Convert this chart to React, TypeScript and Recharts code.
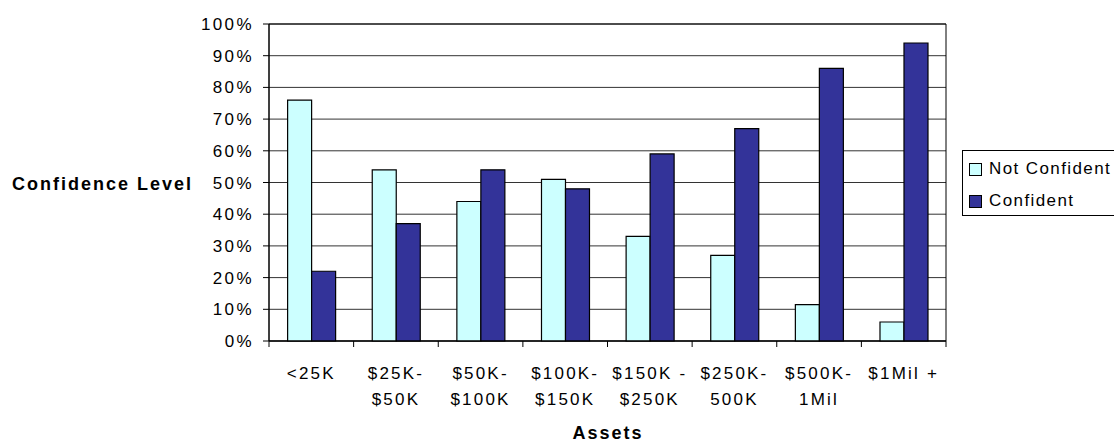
import React from "react";
import {
  Bar,
  BarChart,
  CartesianGrid,
  Legend,
  ReferenceArea,
  XAxis,
  YAxis,
} from "recharts";

const categories = [
  "<25K",
  "$25K-$50K",
  "$50K-$100K",
  "$100K-$150K",
  "$150K-$250K",
  "$250K-500K",
  "$500K-1Mil",
  "$1Mil +",
];
const tickLabelLines = [
  ["<25K"],
  ["$25K-", "$50K"],
  ["$50K-", "$100K"],
  ["$100K-", "$150K"],
  ["$150K -", "$250K"],
  ["$250K-", "500K"],
  ["$500K-", "1Mil"],
  ["$1Mil +"],
];
const seriesNames = ["Not Confident", "Confident"];
const notConfident = [76, 54, 44, 51, 33, 27, 11.5, 6];
const confident = [22, 37, 54, 48, 59, 67, 86, 94];
const yTicks = [0, 10, 20, 30, 40, 50, 60, 70, 80, 90, 100];

const data = categories.map((name, i) => ({
  name,
  notConfident: notConfident[i],
  confident: confident[i],
}));

const FONT = '"Liberation Sans", Arial, sans-serif';
const LIGHT = "#CCFFFF";
const DARK = "#333399";

const CHART_W = 1114;
const CHART_H = 443;
const MARGIN = { top: 24, right: 168, left: 209, bottom: 22 };
const Y_AXIS_W = 60;
const PLOT_W = CHART_W - MARGIN.left - MARGIN.right - Y_AXIS_W;

// category labels plus the boundary tick marks between categories
function CatTick(props: any) {
  const { x, y, payload, index } = props;
  const bw = (typeof props.width === "number" ? props.width : PLOT_W) / categories.length;
  const lines = tickLabelLines[categories.indexOf(payload.value)] ?? [payload.value];
  const last = index === categories.length - 1;
  return (
    <g>
      <line x1={x - bw / 2} x2={x - bw / 2} y1={y} y2={y + 6} stroke="#000" />
      {last && <line x1={x + bw / 2} x2={x + bw / 2} y1={y} y2={y + 6} stroke="#000" />}
      <text
        x={x}
        y={y}
        textAnchor="middle"
        fill="#000"
        style={{ fontFamily: FONT, fontSize: 17, letterSpacing: 2.2 }}
      >
        {lines.map((l: string, i: number) => (
          <tspan key={i} x={x} dy={i === 0 ? 38 : 26}>
            {l}
          </tspan>
        ))}
      </text>
    </g>
  );
}

function LegendBox(props: any) {
  const items = [...(props.payload ?? [])].sort(
    (a: any, b: any) => seriesNames.indexOf(a.value) - seriesNames.indexOf(b.value)
  );
  return (
    <div
      style={{
        border: "1px solid #000",
        background: "#fff",
        width: 160,
        height: 66,
        boxSizing: "border-box",
        paddingTop: 8,
        paddingLeft: 6,
        fontFamily: FONT,
        fontSize: 17,
        letterSpacing: 1.4,
        textAlign: "left",
      }}
    >
      {items.map((it: any) => (
        <div
          key={it.value}
          style={{ display: "flex", alignItems: "center", height: 20, marginBottom: 12 }}
        >
          <span
            style={{
              width: 13,
              height: 13,
              boxSizing: "border-box",
              border: "1px solid #000",
              background: it.color,
              marginRight: 7,
              display: "inline-block",
              flex: "none",
            }}
          />
          <span style={{ whiteSpace: "nowrap" }}>{it.value}</span>
        </div>
      ))}
    </div>
  );
}

export default function App() {
  return (
    <div
      style={{
        position: "absolute",
        left: 0,
        top: 0,
        width: CHART_W,
        height: CHART_H,
        overflow: "hidden",
        background: "#fff",
      }}
    >
      <BarChart
        width={CHART_W}
        height={CHART_H}
        data={data}
        margin={MARGIN}
        barCategoryGap="22%"
        barGap={0}
      >
        <CartesianGrid vertical={false} stroke="#333" strokeOpacity={1} />
        <XAxis
          dataKey="name"
          interval={0}
          tickLine={false}
          axisLine={{ stroke: "#000" }}
          tickSize={0}
          tickMargin={0}
          height={80}
          tick={<CatTick />}
        />
        <YAxis
          domain={[0, 100]}
          ticks={yTicks}
          width={Y_AXIS_W}
          tickSize={6}
          tickMargin={9}
          interval={0}
          tickFormatter={(v: number) => `${v}%`}
          axisLine={{ stroke: "#000" }}
          tickLine={{ stroke: "#000" }}
          tick={{ fill: "#000", fontSize: 17, fontFamily: FONT, letterSpacing: 2.4 } as any}
        />
        <ReferenceArea
          y1={0}
          y2={100}
          fill="none"
          stroke="#000"
          strokeOpacity={1}
          fillOpacity={0}
        />
        <Legend
          layout="vertical"
          verticalAlign="middle"
          align="center"
          wrapperStyle={{ left: 962, top: 150, width: 170, right: "auto", bottom: "auto" }}
          content={<LegendBox />}
        />
        <Bar
          dataKey="notConfident"
          name={seriesNames[0]}
          fill={LIGHT}
          stroke="#000"
          strokeWidth={1.2}
          isAnimationActive={false}
        />
        <Bar
          dataKey="confident"
          name={seriesNames[1]}
          fill={DARK}
          stroke="#000"
          strokeWidth={1.2}
          isAnimationActive={false}
        />
      </BarChart>
      <div
        style={{
          position: "absolute",
          left: 12,
          top: 175,
          fontFamily: FONT,
          fontWeight: "bold",
          fontSize: 18,
          lineHeight: "18px",
          letterSpacing: 2,
          whiteSpace: "nowrap",
        }}
      >
        Confidence Level
      </div>
      <div
        style={{
          position: "absolute",
          left: 508,
          width: 200,
          top: 424,
          textAlign: "center",
          fontFamily: FONT,
          fontWeight: "bold",
          fontSize: 18,
          lineHeight: "18px",
          letterSpacing: 2,
          whiteSpace: "nowrap",
        }}
      >
        Assets
      </div>
    </div>
  );
}
